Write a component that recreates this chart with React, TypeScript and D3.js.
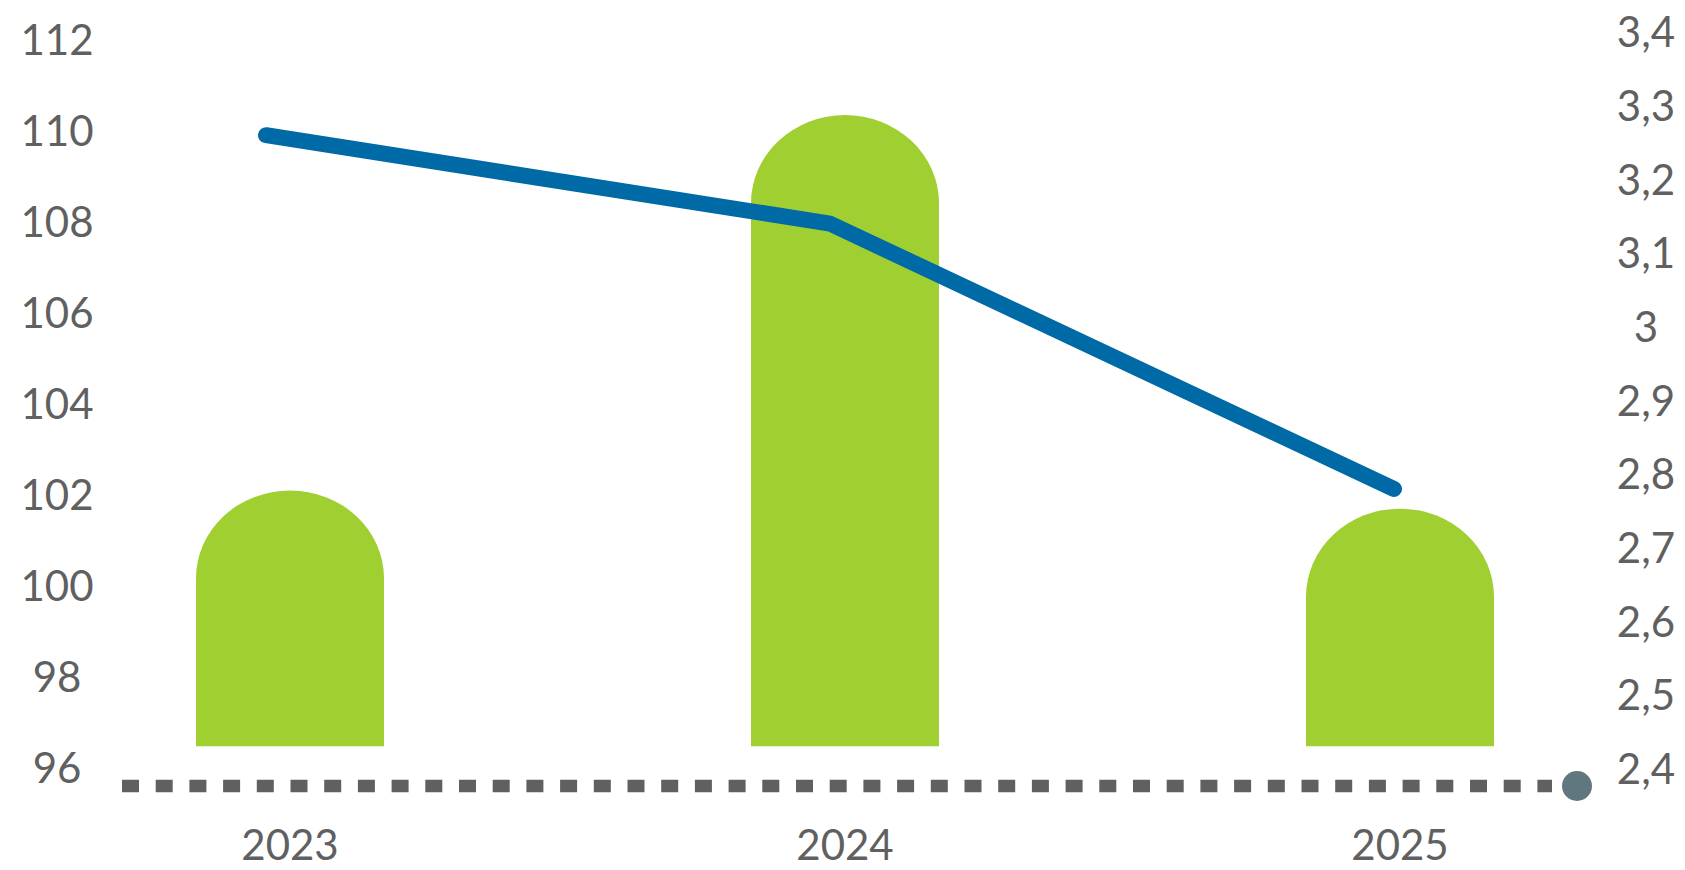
import { useEffect } from 'react';
import * as d3 from 'd3';

const years = ['2023', '2024', '2025'];
// bars, left axis
const barValues = [102.1, 110.35, 101.7];
// line, right axis
const lineValues = [3.26, 3.14, 2.78];

const leftDomain = [96, 112];
const rightDomain = [2.4, 3.4];
const barFloor = 96.48;

const WIDTH = 1685;
const HEIGHT = 870;
const GREEN = '#a0cf32';
const BLUE = '#006aa7';
const TEXT = '#606060';
const FONT = 'Lato, "Open Sans", sans-serif';

const euro = d3.formatLocale({ decimal: ',', thousands: '.', grouping: [3], currency: ['', ''] });
const fmtRight = euro.format('.1~f');

export default function App() {
  useEffect(() => {
    document.body.style.margin = '0';
  }, []);

  const yL = d3.scaleLinear().domain(leftDomain).range([768, 40]);
  const yR = d3.scaleLinear().domain(rightDomain).range([769, 32]);
  const xBar = d3.scalePoint<string>().domain(years).range([290, 1400]);
  const xLine = d3.scalePoint<string>().domain(years).range([266, 1394]);

  const barW = 188;
  const capRy = 88;

  const barPath = (year: string, v: number) => {
    const cx = xBar(year) ?? 0;
    const x0 = cx - barW / 2;
    const x1 = cx + barW / 2;
    const top = yL(v);
    const bottom = yL(barFloor);
    const rx = barW / 2;
    return `M${x0},${bottom}L${x0},${top + capRy}A${rx},${capRy} 0 0 1 ${x1},${top + capRy}L${x1},${bottom}Z`;
  };

  const line = d3
    .line<number>()
    .x((_, i) => xLine(years[i]) ?? 0)
    .y((d) => yR(d));

  const baseY = yL(leftDomain[0]) + 18;
  const axisStart = 122;
  const axisEnd = 1577;

  return (
    <svg width={WIDTH} height={HEIGHT} style={{ display: 'block', background: '#fff' }} fontFamily={FONT}>
      {/* bars */}
      {years.map((y, i) => (
        <path key={y} d={barPath(y, barValues[i])} fill={GREEN} />
      ))}

      {/* line */}
      <path
        d={line(lineValues) ?? ''}
        fill="none"
        stroke={BLUE}
        strokeWidth={16}
        strokeLinecap="round"
        strokeLinejoin="round"
      />

      {/* dotted baseline */}
      <line
        x1={axisStart}
        x2={axisEnd - 25}
        y1={baseY}
        y2={baseY}
        stroke="#606060"
        strokeWidth={12.5}
        strokeDasharray="17 16.7"
      />
      <circle cx={axisEnd} cy={baseY} r={15} fill="#617780" />

      {/* left axis labels */}
      {yL.ticks(8).map((t) => (
        <text key={'l' + t} x={57} y={yL(t)} dy="0.36em" textAnchor="middle" fontSize={42} fill={TEXT}>
          {t}
        </text>
      ))}

      {/* right axis labels */}
      {yR.ticks(10).map((t) => (
        <text key={'r' + t} x={1646} y={yR(t)} dy="0.36em" textAnchor="middle" fontSize={42} fill={TEXT}>
          {fmtRight(t)}
        </text>
      ))}

      {/* x labels */}
      {years.map((y) => (
        <text key={'x' + y} x={xBar(y)} y={845} dy="0.36em" textAnchor="middle" fontSize={42} fill={TEXT}>
          {y}
        </text>
      ))}
    </svg>
  );
}
